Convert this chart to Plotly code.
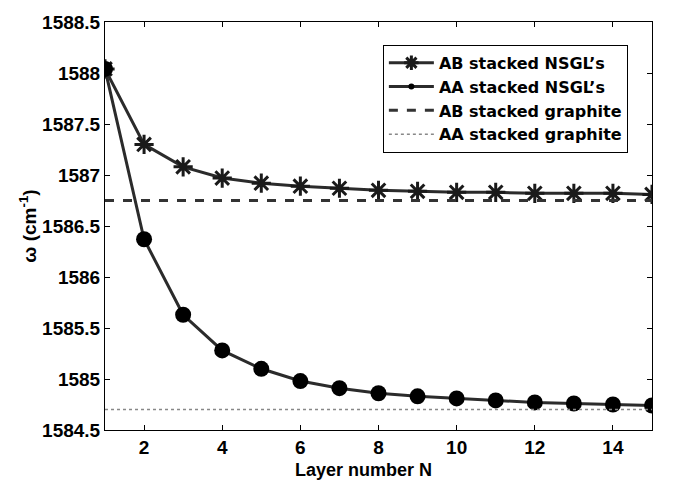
import plotly.graph_objects as go

N = list(range(1, 16))
ab_nsgl = [1588.04, 1587.30, 1587.08, 1586.97, 1586.92, 1586.89, 1586.87, 1586.85,
           1586.84, 1586.83, 1586.83, 1586.82, 1586.82, 1586.82, 1586.81]
aa_nsgl = [1588.04, 1586.37, 1585.63, 1585.28, 1585.10, 1584.98, 1584.91, 1584.86,
           1584.83, 1584.81, 1584.79, 1584.77, 1584.76, 1584.75, 1584.74]
ab_graphite = 1586.75
aa_graphite = 1584.70
x_ticks = [2, 4, 6, 8, 10, 12, 14]
y_ticks = [1584.5, 1585, 1585.5, 1586, 1586.5, 1587, 1587.5, 1588, 1588.5]
y_ticklabels = ["1584.5", "1585", "1585.5", "1586", "1586.5", "1587", "1587.5", "1588", "1588.5"]
names = ["AB stacked NSGL\u2019s", "AA stacked NSGL\u2019s", "AB stacked graphite", "AA stacked graphite"]

FONT = "Liberation Sans, Arial, sans-serif"
LFONT = "DejaVu Sans, Liberation Sans, sans-serif"
LINE = "#2b2b2b"
fig = go.Figure()
# data traces
fig.add_trace(go.Scatter(x=N, y=ab_nsgl, mode="lines+markers", showlegend=False,
                         line=dict(color=LINE, width=3),
                         marker=dict(symbol="asterisk-open", size=16, color="#1a1a1a",
                                     line=dict(color="#1a1a1a", width=3))))
fig.add_trace(go.Scatter(x=N, y=aa_nsgl, mode="lines+markers", showlegend=False,
                         line=dict(color=LINE, width=3),
                         marker=dict(symbol="circle", size=16, color="black")))
fig.add_trace(go.Scatter(x=[N[0], N[-1]], y=[ab_graphite, ab_graphite], mode="lines",
                         showlegend=False, line=dict(color="#333", width=3, dash="dash")))
fig.add_trace(go.Scatter(x=[N[0], N[-1]], y=[aa_graphite, aa_graphite], mode="lines",
                         showlegend=False, line=dict(color="#888", width=1.5, dash="dot")))
# legend entries (no data drawn)
fig.add_trace(go.Scatter(x=[None], y=[None], mode="lines+markers", name=names[0],
                         line=dict(color=LINE, width=3),
                         marker=dict(symbol="asterisk-open", size=12, color="#1a1a1a",
                                     line=dict(color="#1a1a1a", width=3))))
fig.add_trace(go.Scatter(x=[None], y=[None], mode="lines+markers", name=names[1],
                         line=dict(color=LINE, width=3),
                         marker=dict(symbol="circle", size=6, color="black")))
fig.add_trace(go.Scatter(x=[None], y=[None], mode="lines", name=names[2],
                         line=dict(color="#333", width=3, dash="dash")))
fig.add_trace(go.Scatter(x=[None], y=[None], mode="lines", name=names[3],
                         line=dict(color="#888", width=1.5, dash="dot")))

axis_common = dict(showline=True, linecolor="black", linewidth=1, mirror="ticks",
                   ticks="inside", ticklen=5, tickcolor="black", showgrid=False,
                   zeroline=False, tickfont=dict(family=FONT, size=19, color="black", weight="bold"))
fig.update_xaxes(range=[1, 15], tickvals=x_ticks, **axis_common)
fig.update_yaxes(range=[1584.5, 1588.5], tickvals=y_ticks, ticktext=y_ticklabels, **axis_common,
                 title=dict(text="\u03c9 (cm<sup>-1</sup>)", font=dict(family=FONT, size=19, color="black", weight="bold"),
                            standoff=0))
fig.add_annotation(text="Layer number N", xref="paper", yref="paper", x=0.472, y=0,
                   yshift=-40, xanchor="center", yanchor="middle", showarrow=False,
                   font=dict(family=FONT, size=18, color="black", weight="bold"))
fig.update_layout(width=674, height=489, margin=dict(l=105, r=22, t=17, b=59),
                  paper_bgcolor="white", plot_bgcolor="white",
                  showlegend=True,
                  legend=dict(x=0.508, y=0.944, xanchor="left", yanchor="top",
                              bgcolor="white", bordercolor="black", borderwidth=1,
                              font=dict(family=LFONT, size=16, color="black", weight="bold"),
                              tracegroupgap=0, itemwidth=45))
fig.write_html("out.html")
